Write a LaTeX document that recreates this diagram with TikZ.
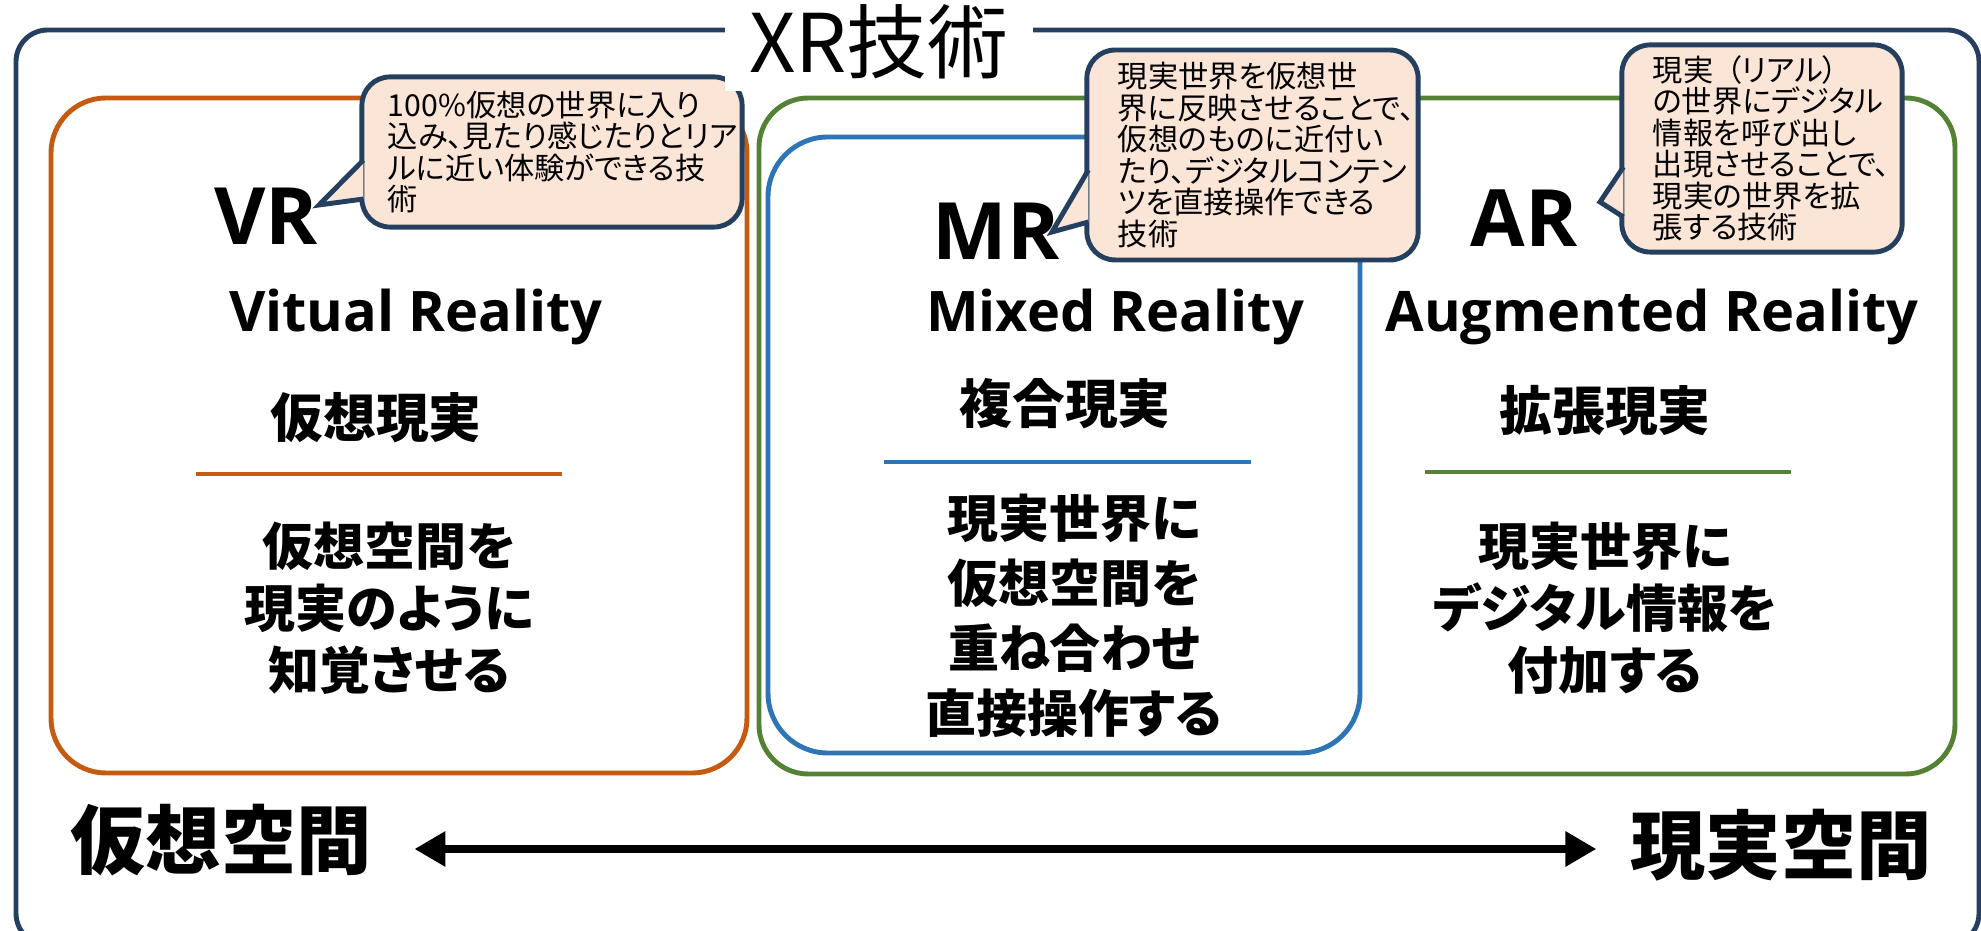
\documentclass[tikz,border=0pt]{standalone}
\usepackage{fontspec}
\setmainfont{Noto Sans CJK JP}[RawFeature=+palt]
\newfontfamily\latinfont{Open Sans}
\usepackage{tikz}
\usetikzlibrary{arrows.meta,calc}
\definecolor{navy}{HTML}{253F5E}
\definecolor{vrorange}{HTML}{C55A11}
\definecolor{argreen}{HTML}{548235}
\definecolor{mrblue}{HTML}{2E75B6}
\definecolor{notefill}{HTML}{FBE5D6}

\begin{document}
\begin{tikzpicture}[x=0.01cm,y=-0.01cm,
	frame/.style={line width=1.4pt,rounded corners=#1},
	note/.style={draw=navy,fill=notefill,line width=1.4pt,rounded corners=8pt,align=left,inner xsep=8.8pt,inner ysep=0pt,font=\fontsize{8.6}{8.95}\selectfont},
	notetail/.style={draw=navy,fill=notefill,line width=1.4pt},
	bigname/.style={anchor=base,font=\latinfont\fontsize{22.5}{22.5}\bfseries\selectfont},
	engname/.style={anchor=base,font=\latinfont\fontsize{15.9}{15.9}\bfseries\selectfont},
	jpname/.style={font=\fontsize{15}{15}\bfseries\selectfont},
	body/.style={align=center,font=\fontsize{14.5}{18}\bfseries\selectfont},
	sidename/.style={inner sep=0pt,font=\fontsize{21.4}{21.4}\bfseries\selectfont},
	divider/.style={line width=1.1pt}]
	\useasboundingbox (0,0) rectangle (1981,931);
	\clip (0,0) rectangle (1981,931);
	% frames
	\draw [navy,frame=9pt] (16,30) rectangle (1979,945);
	\draw [vrorange,frame=15.6pt] (51,98) rectangle (747,773);
	\draw [argreen,frame=14pt] (759,98) rectangle (1955,774);
	\draw [mrblue,frame=17pt] (768,137) rectangle (1360,753);
	\draw [vrorange,divider] (196,474) -- (562,474);
	\draw [mrblue,divider] (884,462) -- (1251,462);
	\draw [argreen,divider] (1425,472) -- (1791,472);
	% VR
	\node [bigname] (vr) at (266,245) {VR};
	\node [engname] (vreng) at (416,332) {Vitual Reality};
	\node [jpname] (vrjp) at (376,418) {仮想現実};
	\node [body,font=\fontsize{14.5}{17.6}\bfseries\selectfont] (vrbody) at (389,608) {仮想空間を\\現実のように\\知覚させる};
	% MR
	\node [bigname] (mr) at (996,260) {MR};
	\node [engname] (mreng) at (1115,332) {Mixed Reality};
	\node [jpname] (mrjp) at (1065,404) {複合現実};
	\node [body,font=\fontsize{14.5}{18.5}\bfseries\selectfont] (mrbody) at (1074,616) {現実世界に\\仮想空間を\\重ね合わせ\\直接操作する};
	% AR
	\node [bigname] (ar) at (1524,247) {AR};
	\node [engname] (areng) at (1652,332) {Augmented Reality};
	\node [jpname] (arjp) at (1605,411) {拡張現実};
	\node [body,font=\fontsize{14.5}{17.6}\bfseries\selectfont] (arbody) at (1605,608) {現実世界に\\デジタル情報を\\付加する};
	% callouts
	\node [note,text width=93.3pt,inner xsep=7.4pt,minimum width=108.1pt,minimum height=42.7pt] (vrnote) at (552,152) {100\%仮想の世界に入り\\込み、見たり感じたりとリア\\ルに近い体験ができる技\\術};
	\coordinate (vrtip) at (319,205);
	\filldraw [notetail] ($(vrnote.west)+(4,8)$) -- (vrtip) -- ($(vrnote.west)+(4,47)$);
	\node [note,text width=76.6pt,minimum width=94.2pt,minimum height=59.7pt] (mrnote) at (1252.5,155) {現実世界を仮想世\\界に反映させることで、\\仮想のものに近付い\\たり、デジタルコンテン\\ツを直接操作できる\\技術};
	\coordinate (mrtip) at (1052,232);
	\filldraw [notetail] ($(mrnote.west)+(4,15)$) -- (mrtip) -- ($(mrnote.west)+(4,67)$);
	\node [note,text width=62.1pt,minimum width=79.7pt,minimum height=58.9pt] (arnote) at (1762,148.5) {現実\kern0.45em（リアル）\\の世界にデジタル\\情報を呼び出し\\出現させることで、\\現実の世界を拡\\張する技術};
	\coordinate (artip) at (1600,202);
	\filldraw [notetail] ($(arnote.west)+(4,18.5)$) -- (artip) -- ($(arnote.west)+(4,68.5)$);
	% title
	\node [fill=white,inner xsep=7pt,anchor=base,font=\fontsize{23}{23}\selectfont] (xr) at (879,73) {XR技術};
	% bottom
	\node [sidename] (virt) at (221,840) {仮想空間};
	\node [sidename] (real) at (1781,845) {現実空間};
	\draw [line width=2.3pt,{Triangle[length=8.8pt,width=9.5pt]}-{Triangle[length=8.8pt,width=9.5pt]},shorten <=12pt,shorten >=9.5pt] ($(virt.east)+(0,9)$) -- ($(real.west)+(0,4)$);
\end{tikzpicture}
\end{document}
